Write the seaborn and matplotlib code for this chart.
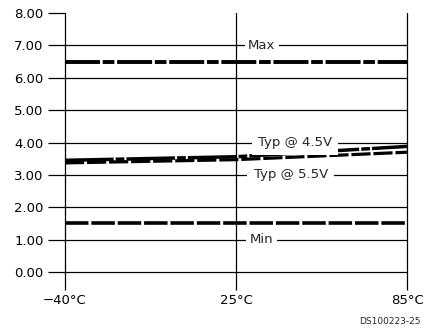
import matplotlib
matplotlib.use("Agg")
import matplotlib.pyplot as plt
import seaborn as sns
import pandas as pd

# temperature points (equally spaced on the chart)
temps = ["\u221240\u00b0C", "25\u00b0C", "85\u00b0C"]
vmax = [6.50, 6.50, 6.50]
typ_45 = [3.45, 3.56, 3.88]
typ_55 = [3.37, 3.47, 3.70]
vmin = [1.50, 1.50, 1.50]
yticks = [0, 1, 2, 3, 4, 5, 6, 7, 8]

pos = list(range(len(temps)))
df = pd.DataFrame({
    "pos": pos * 4,
    "value": vmax + typ_45 + typ_55 + vmin,
    "series": ["Max"] * 3 + ["Typ @ 4.5V"] * 3 + ["Typ @ 5.5V"] * 3 + ["Min"] * 3,
})

sns.set_theme(style="white")
plt.rcParams["font.family"] = ["DejaVu Sans"]

fig = plt.figure(figsize=(4.25, 3.28), dpi=100)
ax = fig.add_axes([65 / 425, 56 / 328, 342 / 425, 259 / 328])

styles = {
    "Max": dict(lw=2.8, dashes=(9, 0.7, 3, 0.7)),
    "Typ @ 4.5V": dict(lw=2.5, dashes=(14, 0.6, 2.5, 0.6)),
    "Typ @ 5.5V": dict(lw=2.3, dashes=(6, 0.9)),
    "Min": dict(lw=2.6, dashes=(6.5, 0.8)),
}
for name, st in styles.items():
    sub = df[df["series"] == name]
    sns.lineplot(data=sub, x="pos", y="value", ax=ax, color="black",
                 linewidth=st["lw"], dashes=False, legend=False, zorder=3)
    ax.lines[-1].set_dashes(st["dashes"])
    ax.lines[-1].set_dash_capstyle("butt")
    ax.lines[-1].set_clip_on(False)

ax.set_xlim(0, 2)
ax.set_ylim(0, 8)
ax.set_xticks(pos)
ax.set_xticklabels(temps)
ax.set_yticks(yticks)
ax.set_yticklabels([f"{v:.2f}" for v in yticks])
ax.set_xlabel("")
ax.set_ylabel("")

for s in ax.spines.values():
    s.set_visible(False)

# grid: vertical at each temperature, horizontal at each value except the top
for p in pos:
    ax.axvline(p, color="black", linewidth=0.9, zorder=1, clip_on=False)
for v in yticks[:-1]:
    ax.axhline(v, color="black", linewidth=0.9, zorder=1, clip_on=False)

ax.tick_params(axis="y", which="major", length=12.5, width=0.9, color="black",
               left=True, pad=3, labelsize=9.5, labelcolor="black")
ax.tick_params(axis="x", which="major", length=13, width=0.9, color="black",
               bottom=True, pad=3, labelsize=9.5, labelcolor="black")

# labels sitting on the gridlines
box = dict(facecolor="white", edgecolor="none", pad=2.5)
ax.text(1.15, 7.0, "Max", ha="center", va="center", fontsize=9.5, bbox=box, zorder=4)
ax.text(1.345, 4.0, "Typ @ 4.5V", ha="center", va="center", fontsize=9.5,
        bbox=dict(facecolor="white", edgecolor="none", pad=4.5), zorder=4)
ax.text(1.32, 3.0, "Typ @ 5.5V", ha="center", va="center", fontsize=9.5,
        bbox=dict(facecolor="white", edgecolor="none", pad=4.5), zorder=4)
ax.text(1.15, 1.0, "Min", ha="center", va="center", fontsize=9.5, bbox=box, zorder=4)

fig.text(421 / 425, 1 - 322 / 328, "DS100223-25", ha="right", va="center", fontsize=6.5)

fig.savefig("out.png", dpi=100)
